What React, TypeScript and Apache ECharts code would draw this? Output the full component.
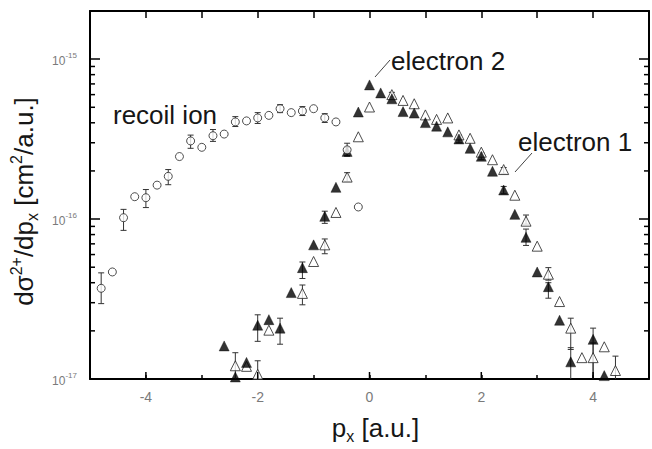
import React, { useEffect, useRef } from 'react';
import * as echarts from 'echarts';

// ---------- data ----------
const recoilX = [-4.8, -4.6, -4.4, -4.2, -4.0, -3.8, -3.6, -3.4, -3.2, -3.0, -2.8, -2.6, -2.4, -2.2, -2.0, -1.8, -1.6, -1.4, -1.2, -1.0, -0.8, -0.6, -0.4, -0.2];
const recoilY = [3.69e-17, 4.67e-17, 1.02e-16, 1.38e-16, 1.36e-16, 1.63e-16, 1.85e-16, 2.46e-16, 3.08e-16, 2.81e-16, 3.32e-16, 3.40e-16, 4.05e-16, 4.11e-16, 4.29e-16, 4.45e-16, 4.90e-16, 4.63e-16, 4.74e-16, 4.90e-16, 4.29e-16, 4.05e-16, 2.71e-16, 1.19e-16];
const recoilErrX = [-4.8, -4.4, -4.0, -3.6, -3.2, -2.8, -2.4, -2.0, -1.6, -1.2, -0.8, -0.4];
const recoilErrLo = [2.96e-17, 8.5e-17, 1.18e-16, 1.64e-16, 2.77e-16, 3.06e-16, 3.79e-16, 3.96e-16, 4.63e-16, 4.44e-16, 4.02e-16, 2.47e-16];
const recoilErrHi = [4.61e-17, 1.15e-16, 1.53e-16, 2.04e-16, 3.35e-16, 3.63e-16, 4.37e-16, 4.63e-16, 5.19e-16, 5.05e-16, 4.56e-16, 2.98e-16];

const elec2X = [-2.6, -2.4, -2.2, -2.0, -1.8, -1.6, -1.4, -1.2, -1.0, -0.8, -0.6, -0.4, -0.2, 0.0, 0.2, 0.4, 0.6, 0.8, 1.0, 1.2, 1.4, 1.6, 1.8, 2.0, 2.2, 2.4, 2.6, 2.8, 3.0, 3.2, 3.4, 3.6, 4.0, 4.2];
const elec2Y = [1.61e-17, 1.03e-17, 1.27e-17, 2.17e-17, 2.35e-17, 2.08e-17, 3.47e-17, 4.97e-17, 6.9e-17, 1.04e-16, 1.58e-16, 2.65e-16, 4.67e-16, 6.9e-16, 6.15e-16, 5.65e-16, 4.7e-16, 4.6e-16, 4.01e-16, 3.81e-16, 3.51e-16, 3.17e-16, 2.77e-16, 2.47e-16, 1.99e-16, 1.52e-16, 1.07e-16, 7.69e-17, 4.67e-17, 3.78e-17, 2.33e-17, 1.28e-17, 1.77e-17, 1.05e-17];
const elec2ErrX = [-2.0, -1.6, -1.2, -0.8, -0.4, 1.6, 2.0, 2.4, 2.8, 3.2, 3.6, 4.0];
const elec2ErrLo = [1.72e-17, 1.65e-17, 4.25e-17, 9.4e-17, 2.5e-16, 3.0e-16, 2.35e-16, 1.44e-16, 6.84e-17, 3.2e-17, 1.0e-17, 1.0e-17];
const elec2ErrHi = [2.52e-17, 2.40e-17, 5.39e-17, 1.12e-16, 2.8e-16, 3.35e-16, 2.6e-16, 1.6e-16, 8.66e-17, 4.0e-17, 1.57e-17, 2.08e-17];

const elec1X = [-2.4, -2.2, -2.0, -1.8, -1.2, -1.0, -0.8, -0.6, -0.4, -0.2, 0.0, 0.4, 0.6, 0.8, 1.0, 1.2, 1.4, 1.6, 1.8, 2.0, 2.2, 2.4, 2.6, 2.8, 3.0, 3.2, 3.4, 3.6, 3.8, 4.0, 4.2, 4.4];
const elec1Y = [1.21e-17, 1.2e-17, 1.07e-17, 2.02e-17, 3.43e-17, 5.43e-17, 6.9e-17, 1.10e-16, 1.83e-16, 3.27e-16, 5.02e-16, 6.0e-16, 5.52e-16, 5.26e-16, 4.48e-16, 4.2e-16, 4.29e-16, 3.36e-16, 3.20e-16, 2.62e-16, 2.35e-16, 2.04e-16, 1.41e-16, 9.7e-17, 6.77e-17, 4.52e-17, 3.05e-17, 2.08e-17, 1.36e-17, 1.36e-17, 1.59e-17, 1.13e-17];
const elec1ErrX = [-2.4, -2.0, -1.2, -0.8, -0.4, 0.4, 2.4, 2.8, 3.2, 3.6, 4.0, 4.4];
const elec1ErrLo = [1.0e-17, 1.0e-17, 2.91e-17, 6.07e-17, 1.72e-16, 5.8e-16, 1.92e-16, 9.3e-17, 4.15e-17, 1.53e-17, 1.0e-17, 1.0e-17];
const elec1ErrHi = [1.46e-17, 1.30e-17, 3.87e-17, 7.51e-17, 1.95e-16, 6.2e-16, 2.1e-16, 1.06e-16, 4.97e-17, 2.40e-17, 1.68e-17, 1.39e-17];

// axis tick values
const xMajorTicks = [-4, -2, 0, 2, 4];
const yMinorTicks = [2e-17, 3e-17, 4e-17, 5e-17, 6e-17, 7e-17, 8e-17, 9e-17, 2e-16, 3e-16, 4e-16, 5e-16, 6e-16, 7e-16, 8e-16, 9e-16];
const X_MIN = -5;
const X_MAX = 5;
const Y_MIN = 1e-17;
const Y_MAX = 2e-15;

const FONT = '"Liberation Sans", Arial, sans-serif';
const LABEL_GRAY = '#7a7a7a';
const INK = '#161616';

const zip = (xs: number[], ys: number[]) => xs.map((x, i) => [x, ys[i]]);
const zip3 = (xs: number[], a: number[], b: number[]) => xs.map((x, i) => [x, a[i], b[i]]);

function errorBarRender(params: any, api: any) {
  const x = api.value(0);
  const lo = api.value(1);
  const hi = api.value(2);
  const pLo = api.coord([x, lo]);
  const pHi = api.coord([x, hi]);
  const w = 3;
  const style = { stroke: '#333', lineWidth: 1 };
  const children: any[] = [
    { type: 'line', shape: { x1: pLo[0], y1: pLo[1], x2: pHi[0], y2: pHi[1] }, style },
    { type: 'line', shape: { x1: pHi[0] - w, y1: pHi[1], x2: pHi[0] + w, y2: pHi[1] }, style },
  ];
  if (lo > Y_MIN * 1.001) {
    children.push({ type: 'line', shape: { x1: pLo[0] - w, y1: pLo[1], x2: pLo[0] + w, y2: pLo[1] }, style });
  }
  return { type: 'group', children };
}

function tickRender(params: any, api: any) {
  const kind = api.value(2);
  const p = api.coord([api.value(0), api.value(1)]);
  const style = { stroke: '#000', lineWidth: 1.5 };
  if (kind === 0) return { type: 'line', shape: { x1: p[0], y1: p[1], x2: p[0] + 5, y2: p[1] }, style };
  if (kind === 1) return { type: 'line', shape: { x1: p[0], y1: p[1], x2: p[0] - 5, y2: p[1] }, style };
  return { type: 'line', shape: { x1: p[0], y1: p[1], x2: p[0], y2: p[1] - 7 }, style };
}

const tickData = [
  ...yMinorTicks.map((v) => [X_MIN, v, 0]),
  ...yMinorTicks.map((v) => [X_MAX, v, 1]),
  ...xMajorTicks.map((v) => [v, Y_MIN, 2]),
];

const yLabelFormatter = (v: number) => {
  const l = Math.log10(v);
  const e = Math.round(l);
  if (Math.abs(l - e) > 1e-6) return '';
  return `{b|10}{s|${e}}`;
};

const axisLineStyle = { show: true, onZero: false, lineStyle: { color: '#000', width: 2 } };

const option: any = {
  animation: false,
  backgroundColor: '#fff',
  textStyle: { fontFamily: FONT },
  grid: { left: 90, top: 11, width: 562, height: 372, containLabel: false },
  xAxis: [
    {
      type: 'value', min: X_MIN, max: X_MAX, interval: 1, position: 'bottom',
      axisLine: axisLineStyle,
      axisTick: { inside: true, length: 4, lineStyle: { color: '#000', width: 1.5 } },
      axisLabel: { formatter: (v: number) => (v % 2 === 0 ? String(v) : ''), color: LABEL_GRAY, fontSize: 14, margin: 11, fontFamily: FONT },
      splitLine: { show: false },
      name: '{n|p}{sub|x}{n| [a.u.]}',
      nameLocation: 'middle',
      nameGap: 33,
      nameTextStyle: {
        fontFamily: FONT, color: INK, padding: [0, 0, 0, 12],
        rich: {
          n: { fontSize: 26, lineHeight: 32, color: INK, fontFamily: FONT },
          sub: { fontSize: 16, lineHeight: 16, verticalAlign: 'bottom', color: INK, fontFamily: FONT },
        },
      },
    },
    {
      type: 'value', min: X_MIN, max: X_MAX, interval: 1, position: 'top',
      axisLine: axisLineStyle,
      axisTick: { inside: true, length: 7, lineStyle: { color: '#000', width: 1.5 } },
      axisLabel: { show: false },
      splitLine: { show: false },
    },
  ],
  yAxis: [
    {
      type: 'log', logBase: 10, min: Y_MIN, max: Y_MAX, position: 'left',
      axisLine: axisLineStyle,
      axisTick: { inside: true, length: 10, lineStyle: { color: '#000', width: 1.5 } },
      axisLabel: {
        formatter: yLabelFormatter, margin: 13,
        rich: {
          b: { fontSize: 12, color: LABEL_GRAY, lineHeight: 16, verticalAlign: 'bottom', fontFamily: FONT },
          s: { fontSize: 8, color: LABEL_GRAY, lineHeight: 10, verticalAlign: 'top', fontFamily: FONT },
        },
      },
      splitLine: { show: false },
      minorTick: { show: false },
      name: '{n|dσ}{sup|2+}{n|/dp}{sub|x}{n| [cm}{sup|2}{n|/a.u.]}',
      nameLocation: 'middle',
      nameRotate: 90,
      nameGap: 50,
      nameTextStyle: {
        fontFamily: FONT, color: INK, padding: [0, 13, 0, 0],
        rich: {
          n: { fontSize: 26, lineHeight: 32, color: INK, fontFamily: FONT },
          sup: { fontSize: 16, lineHeight: 14, verticalAlign: 'top', color: INK, fontFamily: FONT },
          sub: { fontSize: 16, lineHeight: 16, verticalAlign: 'bottom', color: INK, fontFamily: FONT },
        },
      },
    },
    {
      type: 'log', logBase: 10, min: Y_MIN, max: Y_MAX, position: 'right',
      axisLine: axisLineStyle,
      axisTick: { inside: true, length: 10, lineStyle: { color: '#000', width: 1.5 } },
      axisLabel: { show: false },
      splitLine: { show: false },
    },
  ],
  series: [
    {
      name: 'ticks', type: 'custom', renderItem: tickRender, data: tickData, clip: false, silent: true, z: 5,
      xAxisIndex: 0, yAxisIndex: 0, encode: { x: 0, y: 1 },
    },
    {
      name: 'electron 1 err', type: 'custom', renderItem: errorBarRender, data: zip3(elec1ErrX, elec1ErrLo, elec1ErrHi),
      clip: true, silent: true, z: 2, encode: { x: 0, y: [1, 2] },
    },
    {
      name: 'electron 2 err', type: 'custom', renderItem: errorBarRender, data: zip3(elec2ErrX, elec2ErrLo, elec2ErrHi),
      clip: true, silent: true, z: 2, encode: { x: 0, y: [1, 2] },
    },
    {
      name: 'recoil ion err', type: 'custom', renderItem: errorBarRender, data: zip3(recoilErrX, recoilErrLo, recoilErrHi),
      clip: true, silent: true, z: 2, encode: { x: 0, y: [1, 2] },
    },
    {
      name: 'electron 1', type: 'scatter', data: zip(elec1X, elec1Y), symbol: 'triangle', symbolSize: 10,
      itemStyle: { color: '#fff', borderColor: '#222', borderWidth: 1 }, z: 3, clip: true,
    },
    {
      name: 'electron 2', type: 'scatter', data: zip(elec2X, elec2Y), symbol: 'triangle', symbolSize: 10,
      itemStyle: { color: '#000', borderColor: '#000', borderWidth: 0.5 }, z: 4, clip: true,
    },
    {
      name: 'recoil ion', type: 'scatter', data: zip(recoilX, recoilY), symbol: 'circle', symbolSize: 8,
      itemStyle: { color: '#fff', borderColor: '#222', borderWidth: 1 }, z: 4, clip: true,
    },
  ],
  graphic: [
    { type: 'text', x: 113, y: 115, style: { text: 'recoil ion', fill: INK, font: `26px ${FONT}`, textAlign: 'left', textVerticalAlign: 'middle' } },
    { type: 'text', x: 391, y: 61, style: { text: 'electron 2', fill: INK, font: `26px ${FONT}`, textAlign: 'left', textVerticalAlign: 'middle' } },
    { type: 'text', x: 518, y: 142, style: { text: 'electron 1', fill: INK, font: `26px ${FONT}`, textAlign: 'left', textVerticalAlign: 'middle' } },
    { type: 'line', shape: { x1: 375, y1: 77, x2: 390, y2: 60 }, style: { stroke: '#444', lineWidth: 1 } },
    { type: 'line', shape: { x1: 515, y1: 172, x2: 532, y2: 153 }, style: { stroke: '#444', lineWidth: 1 } },
  ],
};

export default function App() {
  const ref = useRef<HTMLDivElement>(null);
  useEffect(() => {
    if (!ref.current) return;
    const chart = echarts.init(ref.current, null, { renderer: 'svg' });
    chart.setOption(option);
    return () => chart.dispose();
  }, []);
  return (
    <div
      ref={ref}
      style={{ position: 'absolute', left: 0, top: 0, width: 652, height: 449, background: '#fff' }}
    />
  );
}
